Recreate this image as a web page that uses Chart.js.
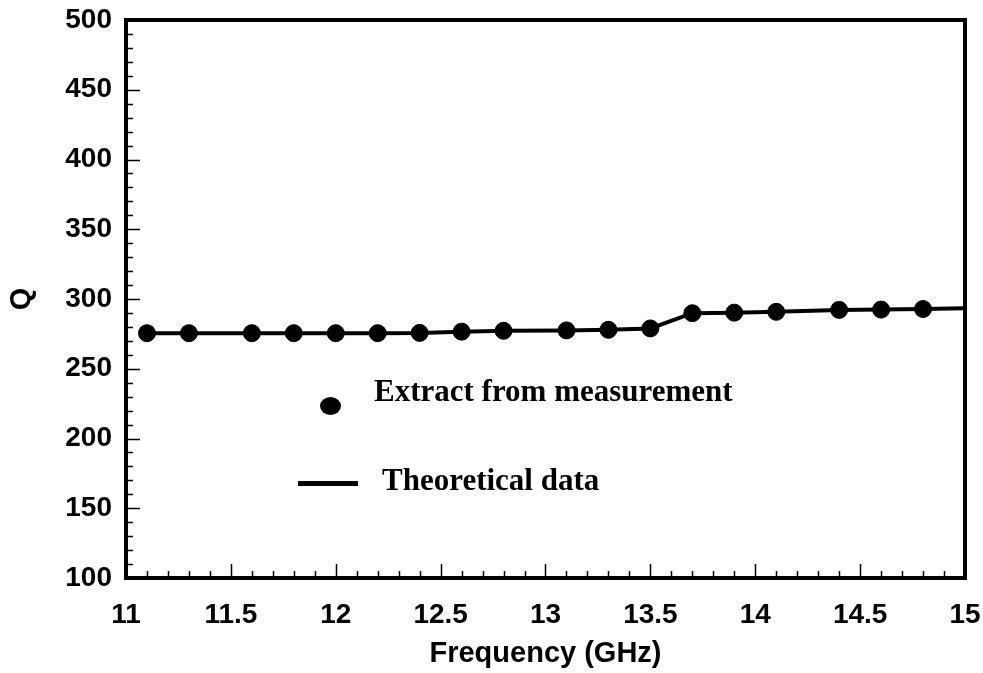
<!DOCTYPE html>
<html>
<head>
<meta charset="utf-8">
<script src="https://cdn.jsdelivr.net/npm/chart.js@4.4.0/dist/chart.umd.min.js"></script>
<style>
  html, body { margin: 0; padding: 0; background: #fff; }
  #wrap { position: relative; width: 983px; height: 673px; }
  .legend-text {
    position: absolute;
    font-family: "Liberation Serif", "Times New Roman", serif;
    font-weight: bold;
    font-size: 31px;
    color: #000;
    white-space: nowrap;
    line-height: 1;
  }
  .legend-dot {
    position: absolute;
    width: 21px; height: 18px;
    border-radius: 50%;
    background: #000;
  }
  .legend-line {
    position: absolute;
    width: 60px; height: 5px;
    background: #000;
  }
</style>
</head>
<body>
<div id="wrap">
  <canvas id="chart" width="983" height="673"></canvas>
  <div class="legend-dot" style="left:320px; top:397px"></div>
  <div class="legend-text" style="left:374px; top:375px">Extract from measurement</div>
  <div class="legend-line" style="left:298px; top:481px"></div>
  <div class="legend-text" style="left:382px; top:464px">Theoretical data</div>
</div>
<script>
// Measured Q values (dots)
const measFreq = [11.1, 11.3, 11.6, 11.8, 12.0, 12.2, 12.4, 12.6, 12.8, 13.1, 13.3, 13.5, 13.7, 13.9, 14.1, 14.4, 14.6, 14.8];
const measQ    = [275.5, 275.5, 275.5, 275.5, 275.5, 275.5, 275.7, 276.6, 277.2, 277.5, 277.9, 278.9, 289.8, 290.2, 290.8, 292.2, 292.4, 292.8];

// Theoretical curve (solid line)
const theoFreq = [11.1, 11.3, 11.6, 11.8, 12.0, 12.2, 12.4, 12.6, 12.8, 13.1, 13.3, 13.5, 13.7, 13.9, 14.1, 14.4, 14.6, 14.8, 15.0];
const theoQ    = [275.5, 275.5, 275.5, 275.5, 275.5, 275.5, 275.7, 276.6, 277.2, 277.5, 277.9, 278.9, 289.8, 290.2, 290.8, 292.2, 292.4, 292.8, 293.4];

// Axis ticks
const xTicks = [11, 11.5, 12, 12.5, 13, 13.5, 14, 14.5, 15];
const yTicks = [100, 150, 200, 250, 300, 350, 400, 450, 500];

const toPoints = (xs, ys) => xs.map((x, i) => ({ x: x, y: ys[i] }));

const tickFont = { family: '"Liberation Sans", Arial, sans-serif', weight: 'bold', size: 28 };
const titleFont = { family: '"Liberation Sans", Arial, sans-serif', weight: 'bold', size: 29 };

// Frame + inward major/minor ticks, drawn through the scales
const frameTicks = {
  id: 'frameTicks',
  afterDatasetsDraw(chart) {
    const { ctx, chartArea: a, scales: { x, y } } = chart;
    ctx.save();
    ctx.strokeStyle = '#000';
    ctx.lineWidth = 1.5;
    ctx.beginPath();
    for (let v = 11; v <= 15.0001; v += 0.1) {
      const px = Math.round(x.getPixelForValue(v)) + 0.5;
      const major = Math.abs(v * 2 - Math.round(v * 2)) < 1e-6;
      const len = major ? 14 : 7;
      ctx.moveTo(px, a.bottom);
      ctx.lineTo(px, a.bottom - len);
    }
    for (let v = 100; v <= 500; v += 10) {
      const py = Math.round(y.getPixelForValue(v)) + 0.5;
      const len = v % 50 === 0 ? 14 : 7;
      ctx.moveTo(a.left, py);
      ctx.lineTo(a.left + len, py);
    }
    ctx.stroke();
    ctx.lineWidth = 4;
    ctx.strokeRect(a.left, a.top, a.right - a.left, a.bottom - a.top);
    ctx.restore();
  }
};

new Chart(document.getElementById('chart'), {
  type: 'scatter',
  data: {
    datasets: [
      {
        label: 'Theoretical data',
        data: toPoints(theoFreq, theoQ),
        showLine: true,
        borderColor: '#000',
        borderWidth: 4,
        pointRadius: 0,
        tension: 0,
        order: 2
      },
      {
        label: 'Extract from measurement',
        data: toPoints(measFreq, measQ),
        showLine: false,
        backgroundColor: '#000',
        borderColor: '#000',
        pointRadius: 8.5,
        order: 1
      }
    ]
  },
  options: {
    responsive: false,
    animation: false,
    layout: { padding: { left: 0, right: 18, top: 20, bottom: 0 } },
    plugins: { legend: { display: false }, tooltip: { enabled: false } },
    scales: {
      x: {
        type: 'linear',
        min: 11, max: 15,
        afterFit: s => { s.height = 95; s.paddingLeft = 0; s.paddingRight = 0; },
        afterBuildTicks: s => { s.ticks = xTicks.map(v => ({ value: v })); },
        grid: { display: false, drawTicks: false },
        border: { display: false },
        ticks: { color: '#000', font: tickFont, padding: 20, maxRotation: 0, autoSkip: false,
                 callback: v => String(v) },
        title: { display: true, text: 'Frequency (GHz)', color: '#000', font: titleFont, padding: { top: 0, bottom: 2 } }
      },
      y: {
        type: 'linear',
        min: 100, max: 500,
        afterFit: s => { s.width = 126; s.paddingTop = 0; s.paddingBottom = 0; },
        afterBuildTicks: s => { s.ticks = yTicks.map(v => ({ value: v })); },
        grid: { display: false, drawTicks: false },
        border: { display: false },
        ticks: { color: '#000', font: tickFont, padding: 14, autoSkip: false,
                 callback: v => String(v) },
        title: { display: true, text: 'Q', color: '#000', font: titleFont, padding: { top: 5, bottom: 0 } }
      }
    }
  },
  plugins: [frameTicks]
});
</script>
</body>
</html>
